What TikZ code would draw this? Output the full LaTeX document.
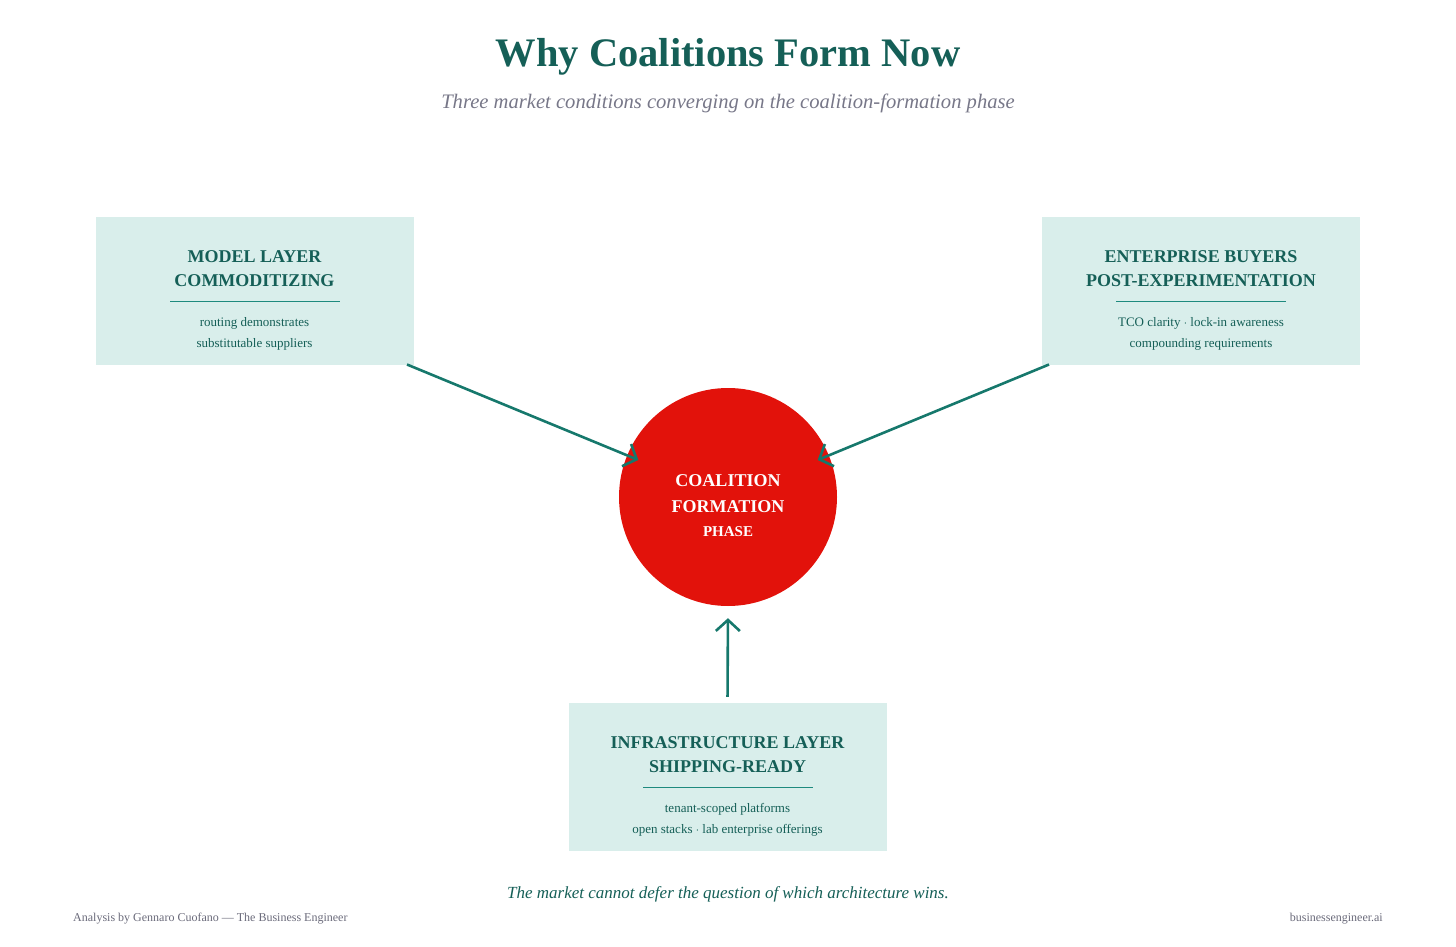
\documentclass[tikz,border=0pt]{standalone}
\usepackage{fontspec}
\setmainfont{Liberation Serif}
\usetikzlibrary{arrows.meta}

\definecolor{teal}{HTML}{155F57}
\definecolor{boxfill}{HTML}{D9EEEB}
\definecolor{rulecol}{HTML}{1E8A7E}
\definecolor{arrowcol}{HTML}{16786C}
\definecolor{hubred}{HTML}{E2120B}
\definecolor{subgray}{HTML}{777788}
\definecolor{footgray}{HTML}{6A6A7A}

\tikzset{
  condbox/.style={rectangle,fill=boxfill,minimum width=318pt,minimum height=148pt,inner sep=0pt},
  boxhead/.style={align=center,text=teal,font=\fontsize{18}{24}\selectfont\bfseries},
  boxtext/.style={align=center,text=teal,font=\fontsize{13}{21}\selectfont},
  feed/.style={draw=arrowcol,line width=2.6pt,-{Straight Barb[length=11pt,width=24pt]}}
}

\begin{document}
\begin{tikzpicture}[x=1pt,y=-1pt]
			\useasboundingbox (0,0) rectangle (1456,947);
			\draw (728,57) node [text=teal,font=\fontsize{40.5}{48}\selectfont\bfseries] (title) {Why Coalitions Form Now};
			\draw (728,103) node [text=subgray,font=\fontsize{20.6}{24}\selectfont\itshape] (subtitle) {Three market conditions converging on the coalition-formation phase};
			% the three conditions
			\draw (254.5,291) node [condbox] (model) {};
			\draw (254.5,269) node [boxhead] {MODEL LAYER\\COMMODITIZING};
			\draw [rulecol,line width=1pt] (170,301) -- (340,301);
			\draw (254.5,333.5) node [boxtext] {routing demonstrates\\substitutable suppliers};
			\draw (1201,291) node [condbox] (buyers) {};
			\draw (1201,269) node [boxhead] {ENTERPRISE BUYERS\\POST-EXPERIMENTATION};
			\draw [rulecol,line width=1pt] (1116,301) -- (1286,301);
			\draw (1201,333.5) node [boxtext] {TCO clarity $\cdot$ lock-in awareness\\compounding requirements};
			\draw (727.5,777) node [condbox] (infra) {};
			\draw (727.5,755) node [boxhead] {INFRASTRUCTURE LAYER\\SHIPPING-READY};
			\draw [rulecol,line width=1pt] (643,787) -- (813,787);
			\draw (727.5,819.5) node [boxtext] {tenant-scoped platforms\\open stacks $\cdot$ lab enterprise offerings};
			% the phase they converge on
			\draw (728,497) node [circle,fill=hubred,minimum size=218pt,inner sep=0pt] (hub) {};
			\draw (728,494) node [align=center,text=white,font=\fontsize{18}{26}\selectfont\bfseries] {COALITION\\FORMATION};
			\draw (728,532) node [text=white,font=\fontsize{15}{18}\selectfont\bfseries] {PHASE};
			\coordinate (modelfoot) at (407,364.5);
			\coordinate (buyersfoot) at (1049,364.5);
			\draw [feed,shorten >=97pt] (modelfoot) -- (hub.center);
			\draw [feed,shorten >=97pt] (buyersfoot) -- (hub.center);
			\draw [feed,shorten <=6pt,shorten >=12pt] (infra.north) -- (hub.south);
			\draw (728,894) node [text=teal,font=\fontsize{17}{20}\selectfont\itshape] (tagline) {The market cannot defer the question of which architecture wins.};
			\draw (73,919) node [anchor=west,inner sep=0pt,text=footgray,font=\fontsize{12}{14}\selectfont] (credit) {Analysis by Gennaro Cuofano --- The Business Engineer};
			\draw (1383,919) node [anchor=east,inner sep=0pt,text=footgray,font=\fontsize{12}{14}\selectfont] (site) {businessengineer.ai};
		\end{tikzpicture}
\end{document}
